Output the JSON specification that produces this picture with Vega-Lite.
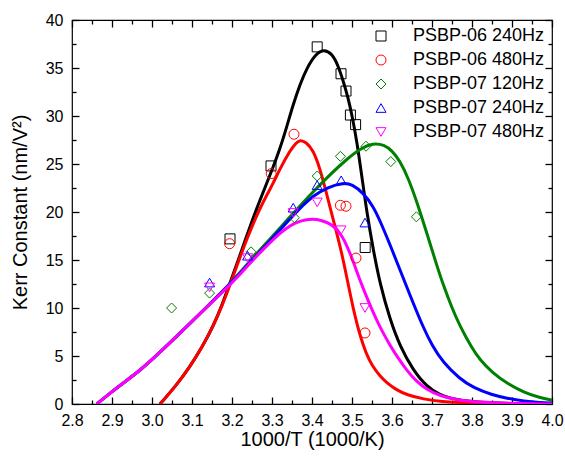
{
  "$schema": "https://vega.github.io/schema/vega-lite/v6.json",
  "width": 480,
  "height": 384,
  "autosize": "none",
  "padding": {"left": 72, "top": 20, "right": 13, "bottom": 56},
  "background": "white",
  "config": {
    "view": {"stroke": "black", "strokeWidth": 1.2},
    "font": "Liberation Sans",
    "axis": {"labelFont": "Liberation Sans", "titleFont": "Liberation Sans", "labelColor": "black", "titleColor": "black", "domain": false, "ticks": true, "tickOpacity": 1, "tickColor": "#000000", "labelFontSize": 16, "titleFontSize": 20, "titleFontWeight": "normal", "tickWidth": 1.3, "grid": false, "labelOverlap": false, "labelFlush": false, "zindex": 1},
    "legend": {"labelFont": "Liberation Sans", "labelFontSize": 18, "labelColor": "black", "labelLimit": 300}
  },
  "datasets": {
    "curves": [
      {"s": "PSBP-06 240Hz", "x": 3.02, "y": 0}, {"s": "PSBP-06 240Hz", "x": 3.06, "y": 1.9}, {"s": "PSBP-06 240Hz", "x": 3.095, "y": 3.9}, {"s": "PSBP-06 240Hz", "x": 3.125, "y": 5.9}, {"s": "PSBP-06 240Hz", "x": 3.153, "y": 8.1}, {"s": "PSBP-06 240Hz", "x": 3.175, "y": 10.3}, {"s": "PSBP-06 240Hz", "x": 3.195, "y": 12.6}, {"s": "PSBP-06 240Hz", "x": 3.22, "y": 15.5}, {"s": "PSBP-06 240Hz", "x": 3.24, "y": 17.9}, {"s": "PSBP-06 240Hz", "x": 3.262, "y": 20.4}, {"s": "PSBP-06 240Hz", "x": 3.283, "y": 22.6}, {"s": "PSBP-06 240Hz", "x": 3.303, "y": 24.7}, {"s": "PSBP-06 240Hz", "x": 3.32, "y": 26.6}, {"s": "PSBP-06 240Hz", "x": 3.337, "y": 28.9}, {"s": "PSBP-06 240Hz", "x": 3.353, "y": 31.2}, {"s": "PSBP-06 240Hz", "x": 3.37, "y": 33.3}, {"s": "PSBP-06 240Hz", "x": 3.387, "y": 35.0}, {"s": "PSBP-06 240Hz", "x": 3.41, "y": 36.5}, {"s": "PSBP-06 240Hz", "x": 3.43, "y": 36.95}, {"s": "PSBP-06 240Hz", "x": 3.45, "y": 36.5}, {"s": "PSBP-06 240Hz", "x": 3.465, "y": 35.3}, {"s": "PSBP-06 240Hz", "x": 3.48, "y": 33.4}, {"s": "PSBP-06 240Hz", "x": 3.49, "y": 31.9}, {"s": "PSBP-06 240Hz", "x": 3.5, "y": 30.1}, {"s": "PSBP-06 240Hz", "x": 3.512, "y": 27.4}, {"s": "PSBP-06 240Hz", "x": 3.525, "y": 23.6}, {"s": "PSBP-06 240Hz", "x": 3.537, "y": 20.0}, {"s": "PSBP-06 240Hz", "x": 3.553, "y": 16.1}, {"s": "PSBP-06 240Hz", "x": 3.57, "y": 12.5}, {"s": "PSBP-06 240Hz", "x": 3.595, "y": 8.8}, {"s": "PSBP-06 240Hz", "x": 3.62, "y": 6.0}, {"s": "PSBP-06 240Hz", "x": 3.653, "y": 3.5}, {"s": "PSBP-06 240Hz", "x": 3.687, "y": 1.8}, {"s": "PSBP-06 240Hz", "x": 3.72, "y": 0.95}, {"s": "PSBP-06 240Hz", "x": 3.745, "y": 0.6}, {"s": "PSBP-06 240Hz", "x": 3.8, "y": 0.18}, {"s": "PSBP-06 240Hz", "x": 3.9, "y": 0.03}, {"s": "PSBP-06 240Hz", "x": 4.0, "y": 0},

      {"s": "PSBP-06 480Hz", "x": 3.02, "y": 0}, {"s": "PSBP-06 480Hz", "x": 3.06, "y": 1.9}, {"s": "PSBP-06 480Hz", "x": 3.095, "y": 3.9}, {"s": "PSBP-06 480Hz", "x": 3.125, "y": 5.9}, {"s": "PSBP-06 480Hz", "x": 3.153, "y": 8.1}, {"s": "PSBP-06 480Hz", "x": 3.175, "y": 10.2}, {"s": "PSBP-06 480Hz", "x": 3.195, "y": 12.4}, {"s": "PSBP-06 480Hz", "x": 3.212, "y": 14.4}, {"s": "PSBP-06 480Hz", "x": 3.23, "y": 16.4}, {"s": "PSBP-06 480Hz", "x": 3.245, "y": 18.0}, {"s": "PSBP-06 480Hz", "x": 3.27, "y": 20.4}, {"s": "PSBP-06 480Hz", "x": 3.29, "y": 22.0}, {"s": "PSBP-06 480Hz", "x": 3.303, "y": 23.0}, {"s": "PSBP-06 480Hz", "x": 3.32, "y": 24.5}, {"s": "PSBP-06 480Hz", "x": 3.345, "y": 26.4}, {"s": "PSBP-06 480Hz", "x": 3.36, "y": 27.2}, {"s": "PSBP-06 480Hz", "x": 3.37, "y": 27.5}, {"s": "PSBP-06 480Hz", "x": 3.385, "y": 27.3}, {"s": "PSBP-06 480Hz", "x": 3.403, "y": 26.4}, {"s": "PSBP-06 480Hz", "x": 3.415, "y": 25.1}, {"s": "PSBP-06 480Hz", "x": 3.428, "y": 23.3}, {"s": "PSBP-06 480Hz", "x": 3.445, "y": 20.5}, {"s": "PSBP-06 480Hz", "x": 3.462, "y": 17.8}, {"s": "PSBP-06 480Hz", "x": 3.475, "y": 15.6}, {"s": "PSBP-06 480Hz", "x": 3.487, "y": 13.2}, {"s": "PSBP-06 480Hz", "x": 3.503, "y": 9.9}, {"s": "PSBP-06 480Hz", "x": 3.52, "y": 7.1}, {"s": "PSBP-06 480Hz", "x": 3.535, "y": 5.3}, {"s": "PSBP-06 480Hz", "x": 3.55, "y": 4.0}, {"s": "PSBP-06 480Hz", "x": 3.57, "y": 2.9}, {"s": "PSBP-06 480Hz", "x": 3.587, "y": 2.2}, {"s": "PSBP-06 480Hz", "x": 3.61, "y": 1.5}, {"s": "PSBP-06 480Hz", "x": 3.637, "y": 0.95}, {"s": "PSBP-06 480Hz", "x": 3.68, "y": 0.5}, {"s": "PSBP-06 480Hz", "x": 3.72, "y": 0.25}, {"s": "PSBP-06 480Hz", "x": 3.8, "y": 0.08}, {"s": "PSBP-06 480Hz", "x": 3.9, "y": 0.02}, {"s": "PSBP-06 480Hz", "x": 4.0, "y": 0},

      {"s": "PSBP-07 120Hz", "x": 2.862, "y": 0}, {"s": "PSBP-07 120Hz", "x": 2.9, "y": 1.3}, {"s": "PSBP-07 120Hz", "x": 2.935, "y": 2.4}, {"s": "PSBP-07 120Hz", "x": 2.97, "y": 3.5}, {"s": "PSBP-07 120Hz", "x": 3.01, "y": 5.0}, {"s": "PSBP-07 120Hz", "x": 3.053, "y": 6.7}, {"s": "PSBP-07 120Hz", "x": 3.095, "y": 8.4}, {"s": "PSBP-07 120Hz", "x": 3.137, "y": 10.1}, {"s": "PSBP-07 120Hz", "x": 3.19, "y": 12.3}, {"s": "PSBP-07 120Hz", "x": 3.22, "y": 13.7}, {"s": "PSBP-07 120Hz", "x": 3.262, "y": 15.7}, {"s": "PSBP-07 120Hz", "x": 3.3, "y": 17.4}, {"s": "PSBP-07 120Hz", "x": 3.345, "y": 19.5}, {"s": "PSBP-07 120Hz", "x": 3.38, "y": 21.1}, {"s": "PSBP-07 120Hz", "x": 3.403, "y": 22.1}, {"s": "PSBP-07 120Hz", "x": 3.445, "y": 23.9}, {"s": "PSBP-07 120Hz", "x": 3.487, "y": 25.5}, {"s": "PSBP-07 120Hz", "x": 3.52, "y": 26.6}, {"s": "PSBP-07 120Hz", "x": 3.553, "y": 27.2}, {"s": "PSBP-07 120Hz", "x": 3.58, "y": 27.0}, {"s": "PSBP-07 120Hz", "x": 3.6, "y": 26.4}, {"s": "PSBP-07 120Hz", "x": 3.62, "y": 25.3}, {"s": "PSBP-07 120Hz", "x": 3.64, "y": 23.6}, {"s": "PSBP-07 120Hz", "x": 3.662, "y": 21.1}, {"s": "PSBP-07 120Hz", "x": 3.687, "y": 17.8}, {"s": "PSBP-07 120Hz", "x": 3.71, "y": 14.7}, {"s": "PSBP-07 120Hz", "x": 3.728, "y": 12.4}, {"s": "PSBP-07 120Hz", "x": 3.75, "y": 10.0}, {"s": "PSBP-07 120Hz", "x": 3.77, "y": 8.1}, {"s": "PSBP-07 120Hz", "x": 3.8, "y": 5.8}, {"s": "PSBP-07 120Hz", "x": 3.82, "y": 4.6}, {"s": "PSBP-07 120Hz", "x": 3.85, "y": 3.3}, {"s": "PSBP-07 120Hz", "x": 3.887, "y": 2.15}, {"s": "PSBP-07 120Hz", "x": 3.93, "y": 1.2}, {"s": "PSBP-07 120Hz", "x": 3.97, "y": 0.65}, {"s": "PSBP-07 120Hz", "x": 4.0, "y": 0.4},

      {"s": "PSBP-07 240Hz", "x": 2.862, "y": 0}, {"s": "PSBP-07 240Hz", "x": 2.9, "y": 1.3}, {"s": "PSBP-07 240Hz", "x": 2.935, "y": 2.4}, {"s": "PSBP-07 240Hz", "x": 2.97, "y": 3.5}, {"s": "PSBP-07 240Hz", "x": 3.01, "y": 5.0}, {"s": "PSBP-07 240Hz", "x": 3.053, "y": 6.7}, {"s": "PSBP-07 240Hz", "x": 3.095, "y": 8.4}, {"s": "PSBP-07 240Hz", "x": 3.137, "y": 10.1}, {"s": "PSBP-07 240Hz", "x": 3.19, "y": 12.3}, {"s": "PSBP-07 240Hz", "x": 3.22, "y": 13.6}, {"s": "PSBP-07 240Hz", "x": 3.262, "y": 15.5}, {"s": "PSBP-07 240Hz", "x": 3.3, "y": 17.2}, {"s": "PSBP-07 240Hz", "x": 3.345, "y": 19.3}, {"s": "PSBP-07 240Hz", "x": 3.38, "y": 20.8}, {"s": "PSBP-07 240Hz", "x": 3.403, "y": 21.7}, {"s": "PSBP-07 240Hz", "x": 3.44, "y": 22.6}, {"s": "PSBP-07 240Hz", "x": 3.478, "y": 23.05}, {"s": "PSBP-07 240Hz", "x": 3.5, "y": 22.9}, {"s": "PSBP-07 240Hz", "x": 3.528, "y": 22.0}, {"s": "PSBP-07 240Hz", "x": 3.553, "y": 20.6}, {"s": "PSBP-07 240Hz", "x": 3.57, "y": 19.1}, {"s": "PSBP-07 240Hz", "x": 3.595, "y": 16.6}, {"s": "PSBP-07 240Hz", "x": 3.612, "y": 14.8}, {"s": "PSBP-07 240Hz", "x": 3.637, "y": 12.2}, {"s": "PSBP-07 240Hz", "x": 3.653, "y": 10.5}, {"s": "PSBP-07 240Hz", "x": 3.678, "y": 8.0}, {"s": "PSBP-07 240Hz", "x": 3.7, "y": 6.1}, {"s": "PSBP-07 240Hz", "x": 3.728, "y": 4.3}, {"s": "PSBP-07 240Hz", "x": 3.77, "y": 2.6}, {"s": "PSBP-07 240Hz", "x": 3.803, "y": 1.7}, {"s": "PSBP-07 240Hz", "x": 3.85, "y": 0.95}, {"s": "PSBP-07 240Hz", "x": 3.887, "y": 0.6}, {"s": "PSBP-07 240Hz", "x": 3.93, "y": 0.3}, {"s": "PSBP-07 240Hz", "x": 3.97, "y": 0.15}, {"s": "PSBP-07 240Hz", "x": 4.0, "y": 0.1},

      {"s": "PSBP-07 480Hz", "x": 2.862, "y": 0}, {"s": "PSBP-07 480Hz", "x": 2.9, "y": 1.3}, {"s": "PSBP-07 480Hz", "x": 2.935, "y": 2.4}, {"s": "PSBP-07 480Hz", "x": 2.97, "y": 3.5}, {"s": "PSBP-07 480Hz", "x": 3.01, "y": 5.0}, {"s": "PSBP-07 480Hz", "x": 3.053, "y": 6.7}, {"s": "PSBP-07 480Hz", "x": 3.095, "y": 8.4}, {"s": "PSBP-07 480Hz", "x": 3.137, "y": 10.1}, {"s": "PSBP-07 480Hz", "x": 3.19, "y": 12.2}, {"s": "PSBP-07 480Hz", "x": 3.22, "y": 13.5}, {"s": "PSBP-07 480Hz", "x": 3.25, "y": 14.9}, {"s": "PSBP-07 480Hz", "x": 3.278, "y": 16.1}, {"s": "PSBP-07 480Hz", "x": 3.3, "y": 17.0}, {"s": "PSBP-07 480Hz", "x": 3.32, "y": 17.8}, {"s": "PSBP-07 480Hz", "x": 3.345, "y": 18.6}, {"s": "PSBP-07 480Hz", "x": 3.37, "y": 19.1}, {"s": "PSBP-07 480Hz", "x": 3.403, "y": 19.3}, {"s": "PSBP-07 480Hz", "x": 3.425, "y": 19.1}, {"s": "PSBP-07 480Hz", "x": 3.445, "y": 18.8}, {"s": "PSBP-07 480Hz", "x": 3.46, "y": 18.3}, {"s": "PSBP-07 480Hz", "x": 3.475, "y": 17.5}, {"s": "PSBP-07 480Hz", "x": 3.487, "y": 16.5}, {"s": "PSBP-07 480Hz", "x": 3.5, "y": 15.2}, {"s": "PSBP-07 480Hz", "x": 3.512, "y": 13.8}, {"s": "PSBP-07 480Hz", "x": 3.528, "y": 12.0}, {"s": "PSBP-07 480Hz", "x": 3.553, "y": 9.5}, {"s": "PSBP-07 480Hz", "x": 3.57, "y": 8.0}, {"s": "PSBP-07 480Hz", "x": 3.595, "y": 6.1}, {"s": "PSBP-07 480Hz", "x": 3.615, "y": 4.8}, {"s": "PSBP-07 480Hz", "x": 3.637, "y": 3.5}, {"s": "PSBP-07 480Hz", "x": 3.66, "y": 2.4}, {"s": "PSBP-07 480Hz", "x": 3.687, "y": 1.5}, {"s": "PSBP-07 480Hz", "x": 3.72, "y": 0.85}, {"s": "PSBP-07 480Hz", "x": 3.762, "y": 0.42}, {"s": "PSBP-07 480Hz", "x": 3.82, "y": 0.18}, {"s": "PSBP-07 480Hz", "x": 3.887, "y": 0.07}, {"s": "PSBP-07 480Hz", "x": 4.0, "y": 0}
    ],
    "pts": [
      {"s": "PSBP-06 240Hz", "x": 3.195, "y": 17.2}, {"s": "PSBP-06 240Hz", "x": 3.2975, "y": 24.8}, {"s": "PSBP-06 240Hz", "x": 3.413, "y": 37.2}, {"s": "PSBP-06 240Hz", "x": 3.4725, "y": 34.4}, {"s": "PSBP-06 240Hz", "x": 3.485, "y": 32.6}, {"s": "PSBP-06 240Hz", "x": 3.496, "y": 30.1}, {"s": "PSBP-06 240Hz", "x": 3.509, "y": 29.1}, {"s": "PSBP-06 240Hz", "x": 3.533, "y": 16.3},
      {"s": "PSBP-06 480Hz", "x": 3.194, "y": 16.7}, {"s": "PSBP-06 480Hz", "x": 3.298, "y": 24.0}, {"s": "PSBP-06 480Hz", "x": 3.355, "y": 28.1}, {"s": "PSBP-06 480Hz", "x": 3.471, "y": 20.7}, {"s": "PSBP-06 480Hz", "x": 3.485, "y": 20.6}, {"s": "PSBP-06 480Hz", "x": 3.51, "y": 15.2}, {"s": "PSBP-06 480Hz", "x": 3.5325, "y": 7.4},
      {"s": "PSBP-07 120Hz", "x": 3.049, "y": 10.0}, {"s": "PSBP-07 120Hz", "x": 3.144, "y": 11.55}, {"s": "PSBP-07 120Hz", "x": 3.2475, "y": 15.85}, {"s": "PSBP-07 120Hz", "x": 3.356, "y": 19.4}, {"s": "PSBP-07 120Hz", "x": 3.413, "y": 23.75}, {"s": "PSBP-07 120Hz", "x": 3.471, "y": 25.8}, {"s": "PSBP-07 120Hz", "x": 3.535, "y": 26.85}, {"s": "PSBP-07 120Hz", "x": 3.597, "y": 25.25}, {"s": "PSBP-07 120Hz", "x": 3.661, "y": 19.5},
      {"s": "PSBP-07 240Hz", "x": 3.144, "y": 12.65}, {"s": "PSBP-07 240Hz", "x": 3.239, "y": 15.45}, {"s": "PSBP-07 240Hz", "x": 3.353, "y": 20.45}, {"s": "PSBP-07 240Hz", "x": 3.413, "y": 22.8}, {"s": "PSBP-07 240Hz", "x": 3.473, "y": 23.3}, {"s": "PSBP-07 240Hz", "x": 3.5325, "y": 18.9},
      {"s": "PSBP-07 480Hz", "x": 3.144, "y": 12.15}, {"s": "PSBP-07 480Hz", "x": 3.239, "y": 15.2}, {"s": "PSBP-07 480Hz", "x": 3.353, "y": 19.9}, {"s": "PSBP-07 480Hz", "x": 3.413, "y": 21.0}, {"s": "PSBP-07 480Hz", "x": 3.4725, "y": 18.1}, {"s": "PSBP-07 480Hz", "x": 3.5325, "y": 10.0}
    ]
  },
  "layer": [
    {
      "data": {"name": "curves"},
      "mark": {"type": "line", "strokeWidth": 3, "interpolate": "basis", "clip": true},
      "encoding": {
        "x": {"field": "x", "type": "quantitative", "scale": {"domain": [2.8, 4.0], "nice": false, "zero": false},
          "axis": {"orient": "bottom", "offset": -7, "ticks": true, "tickSize": 7, "tickColor": "black", "title": "1000/T (1000/K)", "titlePadding": 1,
            "values": [2.8, 2.9, 3.0, 3.1, 3.2, 3.3, 3.4, 3.5, 3.6, 3.7, 3.8, 3.9, 4.0],
            "format": ".1f", "labelPadding": 8}},
        "y": {"field": "y", "type": "quantitative", "scale": {"domain": [0, 40], "nice": false},
          "axis": {"orient": "left", "offset": -7, "ticks": true, "tickSize": 7, "tickColor": "black", "title": "Kerr Constant (nm/V²)", "titlePadding": 15,
            "values": [0, 5, 10, 15, 20, 25, 30, 35, 40],
            "format": "d", "labelPadding": 9}},
        "stroke": {"field": "s", "type": "nominal", "legend": null,
          "scale": {"domain": ["PSBP-07 480Hz", "PSBP-07 240Hz", "PSBP-07 120Hz", "PSBP-06 480Hz", "PSBP-06 240Hz"], "range": ["#ff00ff", "#0000ff", "#008000", "#ff0000", "#000000"]}},
        "detail": {"field": "s", "type": "nominal"}
      }
    },
    {
      "data": {"name": "pts"},
      "mark": {"type": "point", "filled": false, "size": 100, "strokeWidth": 1, "opacity": 1},
      "encoding": {
        "x": {"field": "x", "type": "quantitative",
          "axis": {"orient": "top", "offset": -7, "ticks": true, "tickSize": 7, "tickColor": "black", "title": null, "labels": false,
            "values": [2.8, 2.9, 3.0, 3.1, 3.2, 3.3, 3.4, 3.5, 3.6, 3.7, 3.8, 3.9, 4.0]}},
        "y": {"field": "y", "type": "quantitative",
          "axis": {"orient": "right", "offset": -7, "ticks": true, "tickSize": 7, "tickColor": "black", "title": null, "labels": false,
            "values": [0, 5, 10, 15, 20, 25, 30, 35, 40]}},
        "color": {"field": "s", "type": "nominal",
          "scale": {"domain": ["PSBP-06 240Hz", "PSBP-06 480Hz", "PSBP-07 120Hz", "PSBP-07 240Hz", "PSBP-07 480Hz"], "range": ["#000000", "#ff0000", "#008000", "#0000ff", "#ff00ff"]},
          "legend": {"title": null, "orient": "top-right", "offset": 7, "labelOffset": 23, "rowPadding": 6, "symbolSize": 100, "symbolStrokeWidth": 1, "padding": 0}},
        "shape": {"field": "s", "type": "nominal",
          "scale": {"domain": ["PSBP-06 240Hz", "PSBP-06 480Hz", "PSBP-07 120Hz", "PSBP-07 240Hz", "PSBP-07 480Hz"], "range": ["square", "circle", "diamond", "triangle-up", "triangle-down"]},
          "legend": {"title": null, "orient": "top-right", "offset": 7, "labelOffset": 23, "rowPadding": 6, "symbolSize": 100, "symbolStrokeWidth": 1, "padding": 0}}
      }
    },
    {
      "data": {"name": "pts"},
      "mark": {"type": "point", "opacity": 0},
      "encoding": {
        "x": {"field": "x", "type": "quantitative",
          "axis": {"orient": "bottom", "offset": -4, "ticks": true, "tickSize": 4, "tickColor": "black", "title": null, "labels": false,
            "values": [2.85, 2.95, 3.05, 3.15, 3.25, 3.35, 3.45, 3.55, 3.65, 3.75, 3.85, 3.95]}},
        "y": {"field": "y", "type": "quantitative",
          "axis": {"orient": "left", "offset": -4, "ticks": true, "tickSize": 4, "tickColor": "black", "title": null, "labels": false,
            "values": [2.5, 7.5, 12.5, 17.5, 22.5, 27.5, 32.5, 37.5]}}
      }
    },
    {
      "data": {"name": "pts"},
      "mark": {"type": "point", "opacity": 0},
      "encoding": {
        "x": {"field": "x", "type": "quantitative",
          "axis": {"orient": "top", "offset": -4, "ticks": true, "tickSize": 4, "tickColor": "black", "title": null, "labels": false,
            "values": [2.85, 2.95, 3.05, 3.15, 3.25, 3.35, 3.45, 3.55, 3.65, 3.75, 3.85, 3.95]}},
        "y": {"field": "y", "type": "quantitative",
          "axis": {"orient": "right", "offset": -4, "ticks": true, "tickSize": 4, "tickColor": "black", "title": null, "labels": false,
            "values": [2.5, 7.5, 12.5, 17.5, 22.5, 27.5, 32.5, 37.5]}}
      }
    }
  ],
  "resolve": {"axis": {"x": "independent", "y": "independent"}}
}
